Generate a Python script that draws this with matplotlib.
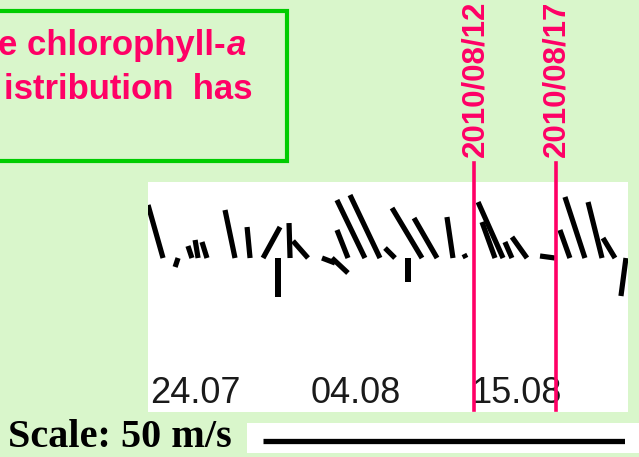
import numpy as np
import matplotlib
matplotlib.use("Agg")
import matplotlib.pyplot as plt
from matplotlib.patches import Rectangle

# ---- data (days since 24 July 2010, wind components in m/s) ----
days = [-2.19, -1.16, -0.21, 0.21, 0.82, 2.74, 3.77, 4.66, 5.68, 6.51, 7.74,
        8.70, 9.38, 10.48, 11.64, 12.67, 13.70, 14.59, 15.55, 16.58, 17.67,
        18.56, 20.55, 21.10, 21.71, 22.74, 24.66, 25.68, 26.71, 27.88, 28.77, 29.52]
u_wind = [-2.07, -0.41, -0.55, -0.41, -0.69, -1.38, -0.41, 2.35, 0.00, -0.14, -2.07,
          1.80, 2.21, -1.52, -3.87, -4.14, -1.38, 0.00, -4.14, -3.18, -0.83,
          -0.28, -1.80, -3.45, -0.97, -2.07, -2.07, -1.38, -2.76, -1.93, -1.66, -0.69]
v_wind = [7.32, -1.24, 1.66, 2.49, 2.21, 6.63, 4.28, 4.28, -5.39, 4.83, 2.35,
          -0.69, -2.07, 3.87, 8.01, 8.70, 1.38, -3.31, 6.91, 5.52, 5.66,
          0.55, 4.97, 7.73, 2.21, 2.90, 0.28, 3.87, 8.43, 7.73, 2.76, -5.25]

tick_days = [0, 11, 22]
tick_labels = ["24.07", "04.08", "15.08"]

marker_days = [19.1, 24.7]
marker_labels = ["2010/08/12", "2010/08/17"]

box_line1_main = "e chlorophyll-"
box_line1_italic = "a"
box_line2 = "istribution  has"
scale_label = "Scale: 50 m/s"
scale_speed = 50

# ---- styling ----
W, H = 639, 457
BG = "#d9f6cb"
PINK = "#ff0066"
GREEN = "#00cc00"

fig = plt.figure(figsize=(W / 100, H / 100), dpi=100, facecolor=BG)

def fx(px):
    return px / W

def fy(py):
    return 1 - py / H

# stick-plot panel
ax = fig.add_axes([fx(148), fy(412), fx(628) - fx(148), fy(182) - fy(412)])
ax.set_facecolor("white")
for s in ax.spines.values():
    s.set_visible(False)
ax.set_xticks([])
ax.set_yticks([])
ax.set_xlim(-3.22, 29.66)
ax.set_ylim(-21.27, 10.5)

ax.quiver(days, np.zeros(len(days)), u_wind, v_wind, angles="uv",
          scale_units="y", scale=1, pivot="tail", color="black",
          units="dots", width=5.2, headwidth=0, headlength=0,
          headaxislength=0, minlength=0)

for d, lab in zip(tick_days, tick_labels):
    ax.text(d, -18.7, lab, ha="center", va="center", fontsize=26,
            family="Liberation Sans", color="#1a1a1a")

# date markers
for d, lab in zip(marker_days, marker_labels):
    ax.axvline(d, ymin=0.01, ymax=1.083, color=PINK, lw=2.6, clip_on=False,
               zorder=5)
    ax.text(d + 0.08, 1.107, lab, transform=ax.get_xaxis_transform(),
            rotation=90, ha="center", va="bottom", fontsize=22.5,
            fontweight="bold", family="Liberation Sans", color=PINK,
            clip_on=False)

# green text box (cut off at left)
fig.patches.append(Rectangle((fx(-20), fy(161)), fx(307), fy(11) - fy(161),
                             transform=fig.transFigure, facecolor=BG,
                             edgecolor=GREEN, lw=3.0, zorder=-1))
ta = fig.text(fx(246), fy(55), box_line1_italic, ha="right", va="baseline",
              fontsize=25, fontweight="bold", style="italic",
              family="Liberation Sans", color=PINK)
fig.canvas.draw()
bb = ta.get_window_extent()
fig.text(bb.x0 / W - fx(1), fy(55), box_line1_main, ha="right", va="baseline",
         fontsize=25, fontweight="bold", family="Liberation Sans",
         color=PINK)
fig.text(fx(253), fy(99), box_line2, ha="right", va="baseline",
         fontsize=25, fontweight="bold", family="Liberation Sans",
         color=PINK)

# scale bar
fig.patches.append(Rectangle((fx(247), fy(453)), fx(400), fy(423) - fy(453),
                             transform=fig.transFigure, facecolor="white",
                             edgecolor="none", zorder=-1))
sax = fig.add_axes([fx(263), fy(453), fx(625) - fx(263), fy(423) - fy(453)])
sax.set_axis_off()
sax.patch.set_visible(False)
sax.set_xlim(0, scale_speed)
sax.set_ylim(0, 1)
sax.plot([0, scale_speed], [0.4, 0.4], color="black", lw=3.8,
         solid_capstyle="butt")
fig.text(fx(8), fy(447), scale_label, ha="left", va="baseline",
         fontsize=29, fontweight="bold", family="Liberation Serif",
         color="black")

fig.savefig("out.png", dpi=100, facecolor=BG)
